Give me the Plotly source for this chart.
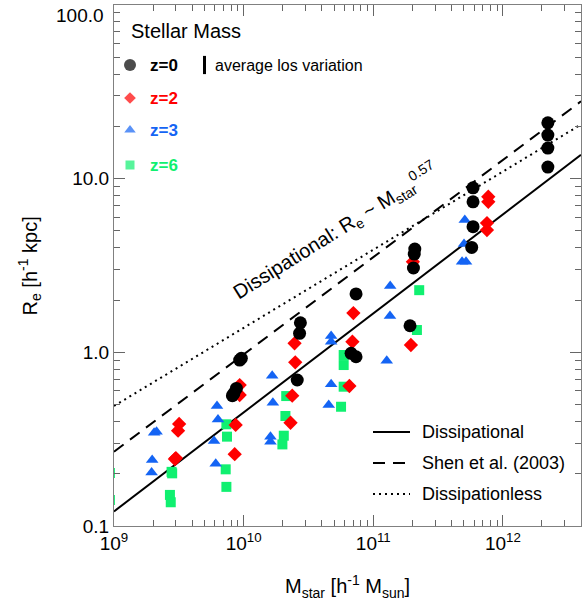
import numpy as np
import plotly.graph_objects as go

# Stellar mass [h^-1 Msun] and effective radius [h^-1 kpc] of the simulated galaxies
z0_mass = [8.42e9, 8.19e9, 8.79e9, 9.32e9, 9.60e9, 2.59e10, 2.74e10, 2.70e10, 6.74e10, 7.36e10,
           7.36e10, 1.92e11, 2.09e11, 2.07e11, 2.04e11, 5.88e11, 5.88e11, 5.88e11, 5.74e11,
           2.22e12, 2.22e12, 2.22e12, 2.22e12]
z0_re = [0.581, 0.563, 0.620, 0.903, 0.924, 0.693, 1.480, 1.287, 0.987, 0.943,
         2.17, 1.423, 3.93, 3.68, 3.06, 8.86, 7.36, 5.29, 4.02,
         20.98, 17.82, 15.0, 11.66]

z2_mass = [2.95e9, 3.00e9, 3.18e9, 3.12e9, 8.68e9, 8.53e9, 9.32e9, 9.32e9, 2.47e10, 2.50e10,
           2.37e10, 2.30e10, 7.02e10, 6.90e10, 6.54e10, 1.95e11, 2.02e11, 7.71e11, 7.71e11,
           7.53e11, 7.53e11]
z2_re = [0.243, 0.246, 0.387, 0.354, 0.382, 0.259, 0.648, 0.568, 1.127, 0.876,
         0.563, 0.393, 1.684, 1.151, 0.640, 1.102, 3.32, 7.87, 7.36,
         5.55, 5.06]

z3_mass = [2.04e9, 2.13e9, 1.97e9, 1.95e9, 6.23e9, 6.34e9, 5.91e9, 6.09e9, 1.66e10, 1.68e10,
           1.61e10, 1.61e10, 4.73e10, 4.73e10, 4.73e10, 4.53e10, 1.35e11, 1.345e11, 1.27e11,
           5.08e11, 5.01e11, 4.84e11, 5.19e11]
z3_re = [0.344, 0.349, 0.240, 0.203, 0.491, 0.411, 0.309, 0.228, 0.733, 0.513,
         0.327, 0.306, 1.241, 1.151, 0.654, 0.497, 2.41, 1.618, 0.895,
         5.78, 4.20, 3.32, 3.32]

z6_mass = [9.3e8, 9.3e8, 2.78e9, 2.81e9, 2.70e9, 2.74e9, 7.36e9, 7.44e9, 7.27e9, 7.36e9,
           2.13e10, 2.10e10, 2.04e10, 1.99e10, 5.91e10, 5.91e10, 5.91e10, 5.64e10,
           2.26e11, 2.17e11]
z6_re = [0.202, 0.141, 0.205, 0.201, 0.151, 0.137, 0.385, 0.327, 0.212, 0.168,
         0.560, 0.430, 0.331, 0.295, 0.965, 0.845, 0.634, 0.486,
         2.28, 1.344]

# Size-mass relations: log10(Re at 1e9 Msun), power-law slope
relation_names = ["Dissipational", "Shen et al. (2003)", "Dissipationless"]
relation_lognorm = [-0.916, -0.572, -0.309]
relation_slope = [0.57, 0.56, 0.45]
relation_dash = ["solid", "12px,8px", "2px,4px"]

x_ticks = [1e9, 1e10, 1e11, 1e12]
x_ticktext = ["10<sup>9</sup>", "10<sup>10</sup>", "10<sup>11</sup>", "10<sup>12</sup>"]
y_ticks = [0.1, 1.0, 10.0, 100.0]
y_ticktext = ["0.1", "1.0", "10.0", ""]

FONT = "Liberation Sans, Arial, Helvetica, sans-serif"
GRAY = "#808080"
TICK = "#666666"
RED = "#ff0000"
BLUE = "#1464f4"
GREEN = "#10f070"

series = [
    (z6_mass, z6_re, "square", 10, GREEN),
    (z3_mass, z3_re, "triangle-up", 11, BLUE),
    (z2_mass, z2_re, "diamond", 11, RED),
    (z0_mass, z0_re, "circle", 13, "black"),
]

fig = go.Figure()

m_line = np.array([1e9, 4e12])
for lognorm, slope, dash in zip(relation_lognorm, relation_slope, relation_dash):
    fig.add_trace(go.Scatter(
        x=m_line, y=10 ** lognorm * (m_line / 1e9) ** slope, mode="lines",
        line=dict(color="black", width=2, dash=dash), showlegend=False, hoverinfo="skip"))

for xs, ys, sym, size, col in series:
    fig.add_trace(go.Scatter(
        x=xs, y=ys, mode="markers",
        marker=dict(symbol=sym, size=size, color=col, line=dict(width=0)),
        showlegend=False))

# Key panels drawn on a pixel-like overlay axis pair
key_rows_y = [65, 98, 130, 165]
key_labels = ["z=0", "z=2", "z=3", "z=6"]
key_colors = ["black", RED, BLUE, GREEN]
key_symbols = ["circle", "diamond", "triangle-up", "square"]
key_sizes = [12, 9, 10, 9]

fig.add_trace(go.Scatter(
    x=[130] * 4, y=key_rows_y, mode="markers", xaxis="x2", yaxis="y2",
    marker=dict(symbol=key_symbols, size=key_sizes, color=key_colors, line=dict(width=0)),
    showlegend=False, hoverinfo="skip"))
fig.add_trace(go.Scatter(
    x=[204.5], y=[65], mode="markers", xaxis="x2", yaxis="y2",
    marker=dict(symbol="line-ns", size=13, line=dict(width=3, color="black")),
    showlegend=False, hoverinfo="skip"))

line_key_y = [432, 463, 494]
for yk, dash in zip(line_key_y, relation_dash):
    fig.add_trace(go.Scatter(
        x=[373, 410], y=[yk, yk], mode="lines", xaxis="x2", yaxis="y2",
        line=dict(color="black", width=2, dash=dash), showlegend=False, hoverinfo="skip"))

annotations = [
    dict(x=129, y=31, text="Stellar Mass", font=dict(size=20)),
    dict(x=213, y=65, text="average los variation", font=dict(size=16)),
]
for yk, lab, col in zip(key_rows_y, key_labels, key_colors):
    annotations.append(dict(x=148, y=yk, text="<b>" + lab + "</b>", font=dict(size=17, color=col)))
for yk, name in zip(line_key_y, relation_names):
    annotations.append(dict(x=420, y=yk, text=name, font=dict(size=18)))
for a in annotations:
    a.update(xref="x2", yref="y2", xanchor="left", yanchor="middle", showarrow=False)
    a["font"].setdefault("color", "black")
    a["font"]["family"] = FONT

annotations.append(dict(
    x=335, y=231, xref="x2", yref="y2", showarrow=False, textangle=-32,
    text="Dissipational: R<sub>e</sub> ~ M<sub>star</sub><sup>0.57</sup>",
    font=dict(size=20, color="black", family=FONT)))

# top y tick label sits just inside the frame; axis titles
annotations += [
    dict(x=-0.017, y=0.979, xref="paper", yref="paper", xanchor="right", yanchor="middle",
         showarrow=False, text="100.0", font=dict(size=19, color="black", family=FONT)),
    dict(x=0.5, y=-0.117, xref="paper", yref="paper", xanchor="center", yanchor="middle",
         showarrow=False, text="M<sub>star</sub> [h<sup>-1</sup> M<sub>sun</sub>]",
         font=dict(size=20, color="black", family=FONT)),
    dict(x=-0.18, y=0.5, xref="paper", yref="paper", xanchor="center", yanchor="middle",
         showarrow=False, textangle=-90, text="R<sub>e</sub> [h<sup>-1</sup> kpc]",
         font=dict(size=20, color="black", family=FONT)),
]

x_range = [9, np.log10(4e12)]
y_range = [-1, 2]


def minor_vals(lo, hi):
    return [m * 10.0 ** e for e in range(lo, hi) for m in range(2, 10)]


# Inward major and minor ticks, mirrored onto the top and right edges
axis_common = dict(
    type="log", showgrid=False, zeroline=False, showline=True, linecolor=GRAY, linewidth=1,
    mirror="allticks", ticks="inside", ticklen=11, tickwidth=1, tickcolor=TICK,
    tickmode="array", tickfont=dict(size=19, color="black", family=FONT),
)

fig.update_layout(
    width=585, height=604, margin=dict(l=114, r=4, t=5, b=78),
    paper_bgcolor="white", plot_bgcolor="white",
    font=dict(family=FONT, color="black"),
    xaxis=dict(**axis_common, range=x_range, tickvals=x_ticks, ticktext=x_ticktext,
               minor=dict(tickmode="array", tickvals=minor_vals(9, 13), ticks="inside",
                          ticklen=6, tickwidth=1, tickcolor=TICK, showgrid=False)),
    yaxis=dict(**axis_common, range=y_range, tickvals=y_ticks, ticktext=y_ticktext,
               minor=dict(tickmode="array", tickvals=minor_vals(-1, 2), ticks="inside",
                          ticklen=6, tickwidth=1, tickcolor=TICK, showgrid=False)),
    xaxis2=dict(overlaying="x", anchor="y2", range=[114, 581], visible=False),
    yaxis2=dict(overlaying="y", anchor="x2", range=[526, 5], visible=False),
    annotations=annotations,
)

fig.write_html("out.html")
